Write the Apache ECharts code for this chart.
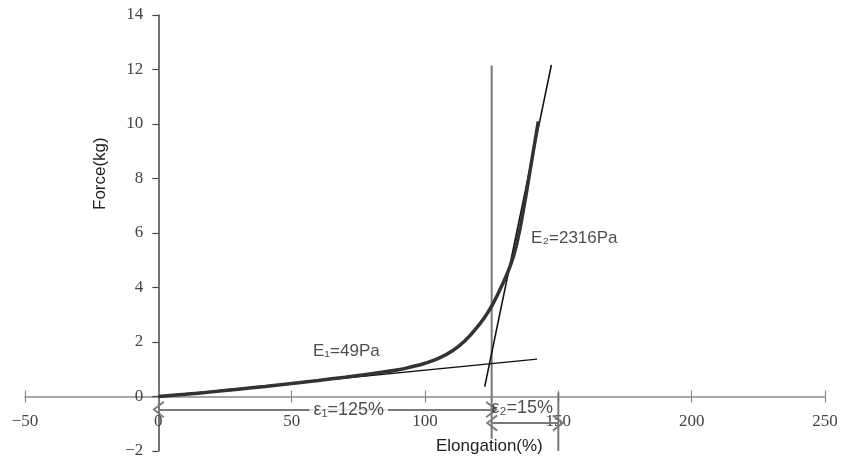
<!DOCTYPE html>
<html>
<head>
<meta charset="utf-8">
<script src="https://cdn.jsdelivr.net/npm/echarts@6/dist/echarts.min.js"></script>
<style>html,body{margin:0;padding:0;background:#fff}#c{width:843px;height:466px}</style>
</head>
<body>
<div id="c"></div>
<script>
// ---- data ----
var xTicks = [-50, 0, 50, 100, 150, 200, 250];
var yTicks = [-2, 0, 2, 4, 6, 8, 10, 12, 14];
var elongation = [0, 10, 20, 30, 40, 50, 60, 70, 80, 90, 95, 100, 105, 110, 115, 120, 124, 128, 132, 134.5, 137, 139.5, 142.5];
var force      = [0, 0.08, 0.17, 0.27, 0.37, 0.48, 0.59, 0.71, 0.84, 0.98, 1.09, 1.22, 1.4, 1.66, 2.05, 2.6, 3.15, 3.9, 4.8, 5.65, 6.9, 8.35, 10.1];
var tangent1X = [0, 142];
var tangent1Y = [0, 1.37];
var tangent2X = [122.4, 147.4];
var tangent2Y = [0.36, 12.17];
var vline1X = [125, 125];
var vline1Y = [-1.55, 12.15];
var vline2X = [150, 150];
var vline2Y = [0.15, -2.0];
var eps1Range = [0, 125];
var eps1Level = -0.48;
var eps2Range = [125, 150];
var eps2Level = -0.97;
var notes = [
  {x: 71.4, y: -0.48, text: 'ε\u2081=125%', key: 'eps1'},
  {x: 124.9, y: -0.44, text: 'ε\u2082=15%', key: 'eps2'},
  {x: 70.5, y: 1.65, text: 'E\u2081=49Pa', key: 'E1'},
  {x: 156, y: 5.8, text: 'E\u2082=2316Pa', key: 'E2'}
];

function zip(a, b) { return a.map(function (v, i) { return [v, b[i]]; }); }
function minus(v) { return String(v).replace('-', '\u2212'); }

var chevron = 'path://M7,0 L14,11 L12.6,12 L7,3 L1.4,12 L0,11 Z';

var W = 843, H = 466;
var G = {left: 25, right: 18, top: 15, bottom: 15};
var gw = W - G.left - G.right, gh = H - G.top - G.bottom;
var xMin = xTicks[0], xMax = xTicks[xTicks.length - 1];
var yMin = yTicks[0], yMax = yTicks[yTicks.length - 1];
// axes cross at the origin: shift each axis inward to the zero of the other
var yAxisOffset = -((0 - xMin) / (xMax - xMin)) * gw;
var xAxisOffset = -((0 - yMin) / (yMax - yMin)) * gh;

var chart = echarts.init(document.getElementById('c'), null, {renderer: 'canvas'});
var serif = '"Liberation Serif", "DejaVu Serif", serif';
var sans = '"Liberation Sans", Arial, sans-serif';

var option = {
  animation: false,
  backgroundColor: '#fff',
  grid: {left: G.left, right: G.right, top: G.top, bottom: G.bottom, containLabel: false, outerBoundsMode: 'none'},
  xAxis: [{
    type: 'value', min: xMin, max: xMax, interval: 50, position: 'bottom', offset: xAxisOffset,
    axisLine: {show: true, onZero: false, lineStyle: {color: '#8a8a8a', width: 1.5}},
    axisTick: {show: true, inside: false, length: 6, lineStyle: {color: '#8a8a8a', width: 1.2}},
    axisLabel: {color: '#444', fontFamily: serif, fontSize: 17, margin: 17, formatter: minus},
    splitLine: {show: false}
  }, {
    type: 'value', min: xMin, max: xMax, interval: 50, position: 'bottom', offset: xAxisOffset,
    axisLine: {show: false, onZero: false},
    axisTick: {show: true, inside: true, length: 6, lineStyle: {color: '#8a8a8a', width: 1.2}},
    axisLabel: {show: false},
    splitLine: {show: false}
  }],
  yAxis: [{
    type: 'value', min: yMin, max: yMax, interval: 2, position: 'left', offset: yAxisOffset,
    axisLine: {show: true, onZero: false, lineStyle: {color: '#444', width: 1.5}},
    axisTick: {show: true, inside: false, length: 6, lineStyle: {color: '#444', width: 1.2}},
    axisLabel: {color: '#444', fontFamily: serif, fontSize: 17, margin: 15, formatter: minus},
    splitLine: {show: false}
  }],
  series: [
    {
      name: 'curve', type: 'line', xAxisIndex: 0, yAxisIndex: 0,
      data: zip(elongation, force), showSymbol: false, symbol: 'none', smooth: 0.5,
      lineStyle: {color: '#333', width: 3.5}, z: 5
    },
    {
      name: 't1', type: 'line', data: zip(tangent1X, tangent1Y), symbol: 'none',
      lineStyle: {color: '#111', width: 1.4}, z: 4
    },
    {
      name: 't2', type: 'line', data: zip(tangent2X, tangent2Y), symbol: 'none',
      lineStyle: {color: '#111', width: 1.6}, z: 4
    },
    {
      name: 'v1', type: 'line', data: zip(vline1X, vline1Y), symbol: 'none',
      lineStyle: {color: '#777', width: 2}, z: 3
    },
    {
      name: 'v2', type: 'line', data: zip(vline2X, vline2Y), symbol: 'none', clip: false,
      lineStyle: {color: '#777', width: 2}, z: 3,
      markLine: {
        silent: true, symbol: [chevron, chevron], symbolSize: [17, 12],
        label: {show: false},
        lineStyle: {color: '#7a7a7a', width: 2, type: 'solid'},
        data: [
          [{coord: [eps1Range[0], eps1Level]}, {coord: [eps1Range[1], eps1Level]}],
          [{coord: [eps2Range[0], eps2Level]}, {coord: [eps2Range[1], eps2Level]}]
        ]
      }
    },
    {
      name: 'notes', type: 'scatter', symbolSize: 0, z: 10,
      data: notes.map(function (n) {
        var lab = {show: true, formatter: n.text, color: '#222', fontFamily: sans, fontSize: 17};
        if (n.key === 'eps1') { lab.position = 'inside'; lab.backgroundColor = '#fff'; lab.padding = [1, 4]; lab.fontSize = 18; }
        else if (n.key === 'eps2') { lab.position = 'right'; lab.distance = 0; lab.fontSize = 18; }
        else { lab.position = 'inside'; }
        return {value: [n.x, n.y], label: lab};
      })
    }
  ],
  graphic: [
    {type: 'text', left: 436, top: 438, style: {text: 'Elongation(%)', font: '17px ' + sans, fill: '#222'}},
    {type: 'text', x: 92, y: 210, rotation: Math.PI / 2, style: {text: 'Force(kg)', font: '17px ' + sans, fill: '#222'}}
  ]
};
chart.setOption(option);
</script>
</body>
</html>
